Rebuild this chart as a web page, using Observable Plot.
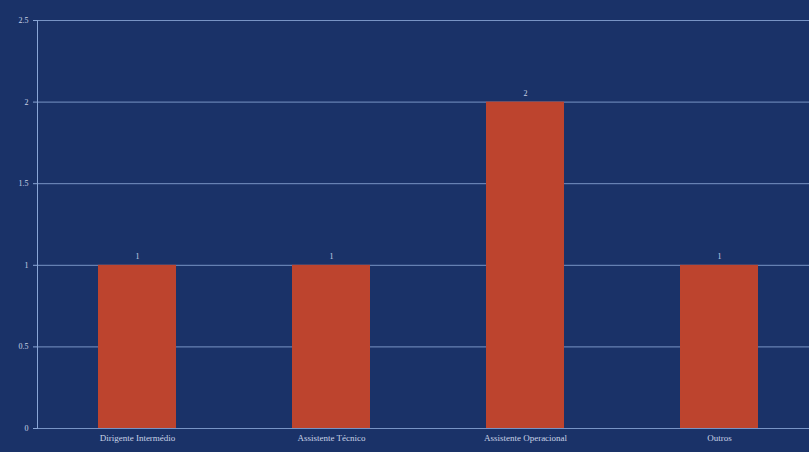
<!DOCTYPE html>
<html><head><meta charset="utf-8">
<script src="https://cdn.jsdelivr.net/npm/d3@7"></script>
<script src="https://cdn.jsdelivr.net/npm/@observablehq/plot@0.6"></script>
<style>
html,body{margin:0;padding:0;background:#1a3268;}
#chart{width:809px;height:452px;overflow:hidden;}
</style>
</head><body><div id="chart"></div>
<script>
const categories = ["Dirigente Intermédio", "Assistente Técnico", "Assistente Operacional", "Outros"];
const values = [1, 1, 2, 1];
const yTicks = [0, 0.5, 1, 1.5, 2, 2.5];
const data = categories.map((c, i) => ({category: c, value: values[i]}));

const chart = Plot.plot({
  width: 809,
  height: 452,
  marginTop: 20,
  marginBottom: 24,
  marginLeft: 37,
  marginRight: 0,
  style: {background: "#1a3268", color: "#c9d3e6", fontFamily: "Liberation Serif, serif", fontSize: "8px"},
  x: {domain: categories, range: [39, 816], paddingInner: 0.6, paddingOuter: 0.3, label: null},
  y: {domain: [0, 2.5], ticks: yTicks, label: null},
  marks: [
    Plot.gridY(yTicks, {stroke: "#8aa6d6", strokeOpacity: 0.85}),
    Plot.barY(data, {x: "category", y: "value", fill: "#bd442e"}),
    Plot.text(data, {x: "category", y: "value", text: d => String(d.value), dy: -9, fill: "#c9d3e6", fontSize: 8}),
    Plot.frame({anchor: "left", stroke: "#8aa6d6"}),
    Plot.axisY({ticks: yTicks, tickFormat: d => String(d), tickSize: 4, stroke: "#8aa6d6", fill: "#c9d3e6", fontSize: 8}),
    Plot.axisX({tickSize: 0, tickPadding: 6, fill: "#c9d3e6", fontSize: 9})
  ]
});
document.getElementById("chart").appendChild(chart);
</script>
</body></html>
